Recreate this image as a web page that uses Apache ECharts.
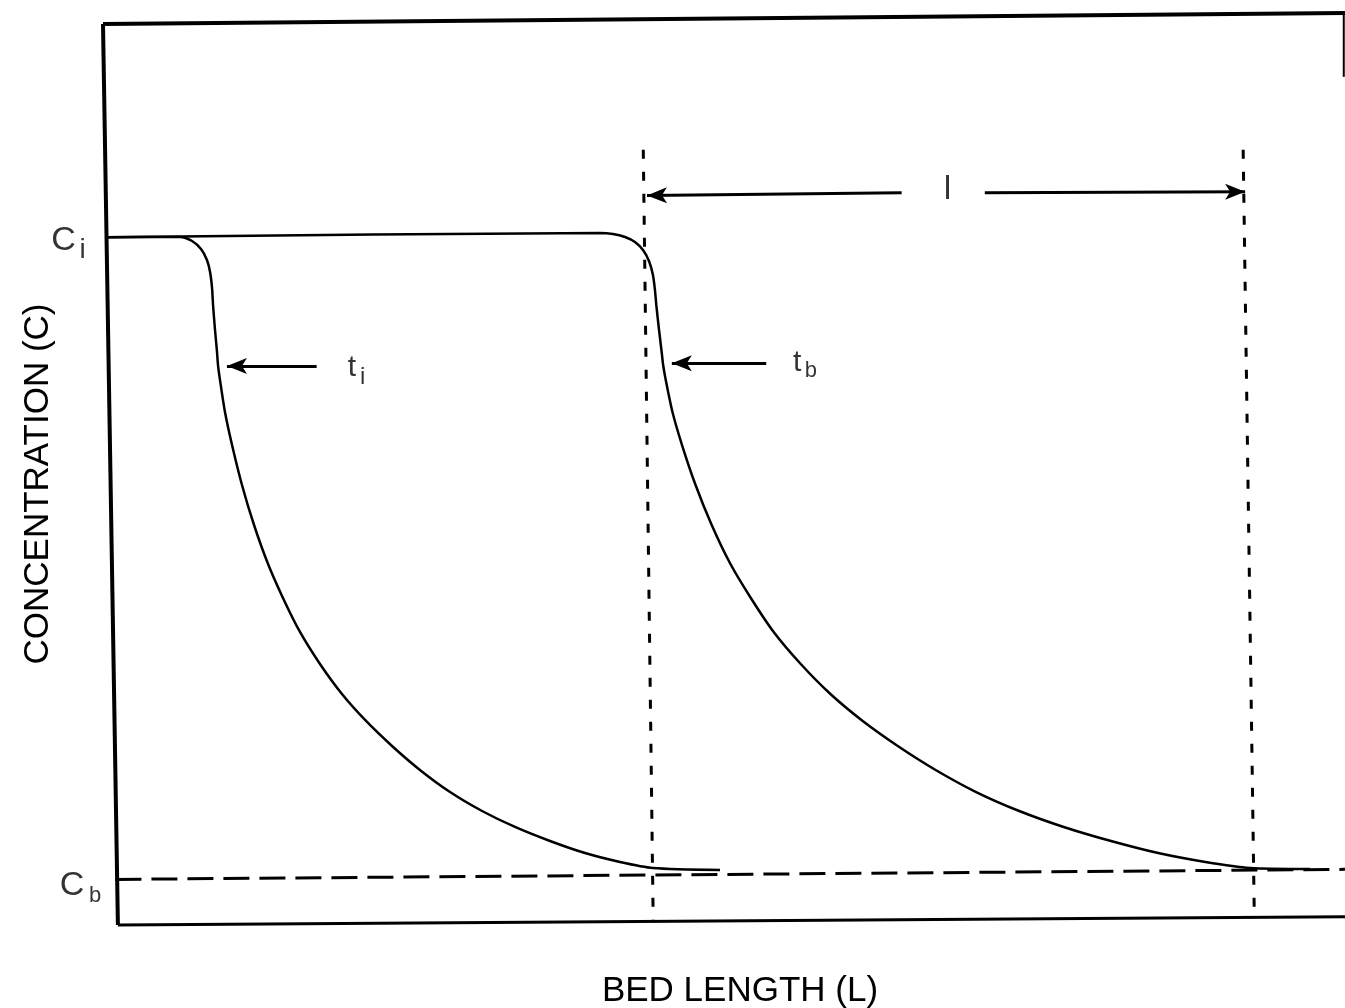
<!DOCTYPE html>
<html><head><meta charset="utf-8">
<script src="https://cdn.jsdelivr.net/npm/echarts@6/dist/echarts.min.js"></script>
<style>html,body{margin:0;padding:0;background:#fff}#c{width:1345px;height:1008px}</style>
</head><body><div id="c"></div>
<script>
// Concentration profiles along the bed (x: bed length units 0-100, y: concentration units 0-100)
const curveTi = [[0.3,75.4],[6.20,75.44],[7.17,75.00],[7.89,74.12],[8.37,72.92],[8.62,71.60],[8.78,69.85],[8.86,67.98],[9.02,65.24],[9.18,62.83],[9.26,61.40],[9.42,59.76],[9.82,56.25],[10.39,52.63],[11.19,48.25],[12.16,43.86],[13.29,39.58],[14.49,35.86],[15.86,32.13],[17.47,28.62],[19.24,25.33],[21.18,22.37],[23.27,19.63],[25.52,17.00],[27.94,14.58],[30.52,12.50],[33.17,10.75],[35.99,9.21],[38.81,7.89],[41.63,6.91],[44.28,6.25],[49.68,6.03]];
const curveTb = [[0.3,75.4],[40.02,75.88],[41.06,75.77],[42.03,75.44],[42.83,74.89],[43.48,74.01],[43.96,72.81],[44.28,71.27],[44.44,69.63],[44.55,67.98],[44.77,65.24],[44.98,62.83],[45.10,61.40],[45.31,59.76],[45.85,56.25],[46.62,52.63],[47.71,48.25],[49.01,43.86],[50.52,39.58],[52.16,35.86],[54.00,32.13],[56.18,28.62],[58.57,25.33],[61.17,22.37],[63.99,19.63],[67.04,17.00],[70.30,14.58],[73.77,12.50],[77.35,10.75],[81.16,9.21],[84.96,7.89],[88.76,6.91],[92.35,6.25],[97.18,6.14]];
const baselineCb = [[1.0,5.0],[100,6.1]];
const frameTop = [[0,98.8],[100,100]];
const frameLeft = [[0,98.8],[1.2,0]];
const frameBottom = [[1.2,0],[100,0.9]];
const frameRight = [[99.9,100],[99.9,93]];
const zoneStart = [[43.5,85.0],[44.3,0.3]];
const zoneEnd = [[91.8,85.0],[92.7,0.8]];
// arrows: [tail, tip]
const arrowZoneLeft = [[64.3,80.3],[43.8,80.0]];
const arrowZoneRight = [[71.0,80.3],[91.96,80.4]];
const arrowTi = [[17.2,61.3],[9.98,61.3]];
const arrowTb = [[53.4,61.6],[45.8,61.6]];
// text annotations: [x, y, text, fontSize]
const annotations = [
  [-3.18,75.05,'C',34],[-1.65,74.0,'i',28],
  [-2.5,4.3,'C',34],[-0.64,3.2,'b',22],
  [20.05,61.1,'t',30],[20.9,60.1,'i',24],
  [55.9,61.7,'t',30],[57.0,60.8,'b',22],
  [68.0,80.6,'l',34]
];
const xTitle = 'BED LENGTH (L)';
const yTitle = 'CONCENTRATION (C)';

const FONT = '"Liberation Sans", Arial, sans-serif';
const INK = '#000';
function lineSeries(data, width, type, smooth){
  return {type:'line', data:data, showSymbol:false, symbol:'none', clip:false, silent:true,
    smooth: smooth||0, lineStyle:{color:INK, width:width, type:type||'solid'}, z:3};
}
function arrowSeries(pair){
  return {type:'line', data:[], silent:true,
    markLine:{silent:true, symbol:['none','arrow'], symbolSize:[12,20], label:{show:false},
      lineStyle:{color:INK, width:3, type:'solid'}, emphasis:{disabled:true},
      data:[[{coord:pair[0]},{coord:pair[1]}]]}};
}
const chart = echarts.init(document.getElementById('c'), null, {renderer:'canvas'});
chart.setOption({
  animation:false,
  backgroundColor:'#fff',
  grid:{left:103, right:0, top:13, bottom:83},
  xAxis:{type:'value', min:0, max:100, axisLine:{show:false}, axisTick:{show:false}, axisLabel:{show:false}, splitLine:{show:false}},
  yAxis:{type:'value', min:0, max:100, axisLine:{show:false}, axisTick:{show:false}, axisLabel:{show:false}, splitLine:{show:false}},
  graphic:[
    {type:'text', x:740, y:991, style:{text:xTitle, font:'35px '+FONT, fill:INK, textAlign:'center', textVerticalAlign:'middle'}},
    {type:'text', x:38, y:484, rotation:Math.PI/2, style:{text:yTitle, font:'35px '+FONT, fill:INK, textAlign:'center', textVerticalAlign:'middle'}}
  ],
  series:[
    lineSeries(frameTop,4),
    lineSeries(frameLeft,4),
    lineSeries(frameBottom,3),
    lineSeries(frameRight,2),
    lineSeries(baselineCb,3,[26,10]),
    lineSeries(zoneStart,3,[9,13]),
    lineSeries(zoneEnd,3,[9,13]),
    lineSeries(curveTi,2.5,'solid',0.25),
    lineSeries(curveTb,2.5,'solid',0.25),
    arrowSeries(arrowZoneLeft),
    arrowSeries(arrowZoneRight),
    arrowSeries(arrowTi),
    arrowSeries(arrowTb),
    {type:'scatter', clip:false, silent:true, symbolSize:1, itemStyle:{color:'rgba(0,0,0,0)'},
      data: annotations.map(a=>({value:[a[0],a[1]], label:{show:true, position:'inside', formatter:a[2], fontSize:a[3], fontFamily:FONT, color:INK}}))}
  ]
});
</script></body></html>
